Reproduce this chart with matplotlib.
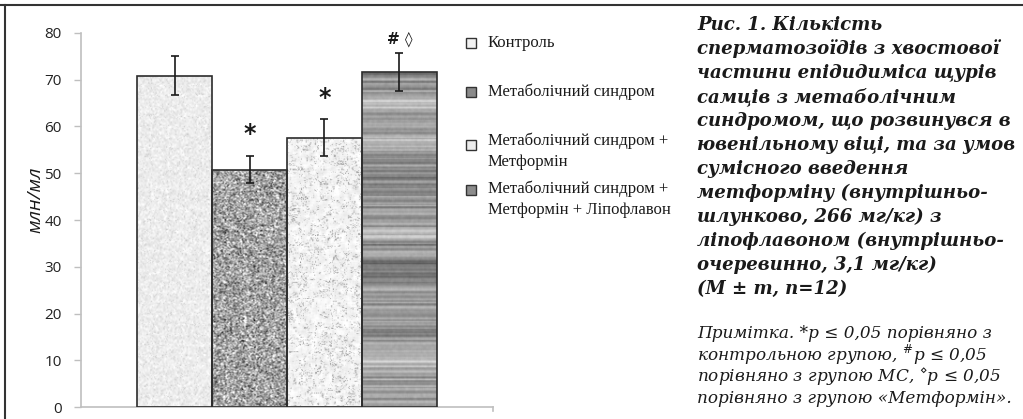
import numpy as np
import matplotlib
matplotlib.use("Agg")
import matplotlib.pyplot as plt
from matplotlib.lines import Line2D
from matplotlib.patches import Rectangle

# --- data -------------------------------------------------------------
groups = ["Контроль",
          "Метаболічний синдром",
          "Метаболічний синдром +\nМетформін",
          "Метаболічний синдром +\nМетформін + Ліпофлавон"]
means = [70.9, 50.8, 57.6, 71.6]
errors = [4.2, 2.9, 4.0, 4.1]
marks = ["", "*", "*", "# \u25ca"]
yticks = [0, 10, 20, 30, 40, 50, 60, 70, 80]
ylabel = "млн/мл"

caption = ["Рис. 1. Кількість",
           "сперматозоїдів з хвостової",
           "частини епідидиміса щурів",
           "самців з метаболічним",
           "синдромом, що розвинувся в",
           "ювенільному віці, та за умов",
           "сумісного введення",
           "метформіну (внутрішньо-",
           "шлунково, 266 мг/кг) з",
           "ліпофлавоном (внутрішньо-",
           "очеревинно, 3,1 мг/кг)",
           "(M \u00b1 m, n=12)"]
note = ["Примітка. *p \u2264 0,05 порівняно з",
        "контрольною групою, $^{\\#}$p \u2264 0,05",
        "порівняно з групою МС, $^{\\diamond}$p \u2264 0,05",
        "порівняно з групою «Метформін»."]

# --- textures ---------------------------------------------------------
rng = np.random.default_rng(7)


def smooth(a, k):
    kern = np.ones(k) / k
    a = np.apply_along_axis(lambda r: np.convolve(r, kern, mode="same"), 0, a)
    a = np.apply_along_axis(lambda r: np.convolve(r, kern, mode="same"), 1, a)
    return a


def field(shape, k):
    f = smooth(rng.normal(size=(shape[0] + 2 * k, shape[1] + 2 * k)), k)
    f = f[k:-k, k:-k]
    return (f - f.mean()) / f.std()


H, W = 300, 80
# light speckle
t1 = 0.93 + 0.05 * smooth(rng.normal(size=(H, W)), 2)
t1 -= 0.08 * (rng.random((H, W)) > 0.93)
# granite
g = smooth(rng.normal(size=(H, W)), 2)
t2 = 0.64 + 0.30 * g
t2 -= 0.30 * (rng.random((H, W)) > 0.985)
# marble: warped sine veins
yy, xx = np.mgrid[0:H, 0:W]
warp = field((H, W), 21)
phase = 0.07 * (xx * 0.9 + yy * 0.55) + 1.6 * warp
vein = np.exp(-(np.abs(np.sin(phase)) / 0.12) ** 2)
warp2 = field((H, W), 15)
vein2 = np.exp(-(np.abs(np.sin(0.05 * (yy - xx * 0.4) + 1.8 * warp2)) / 0.08) ** 2)
t3 = 0.96 - 0.32 * vein - 0.2 * vein2 - 0.02 * field((H, W), 5)
# wood, horizontal grain
rows = np.convolve(rng.normal(size=H + 20), np.ones(2) / 2, mode="same")[10:H + 10]
band = np.convolve(rng.normal(size=H + 60), np.ones(15) / 15, mode="same")[30:H + 30]
t4 = (0.60 + 0.10 * rows[:, None] + 0.30 * band[:, None]
      + 0.03 * smooth(rng.normal(size=(H, W)), 3))
textures = [np.clip(t, 0, 1) for t in (t1, t2, t3, t4)]

# --- figure -----------------------------------------------------------
fig = plt.figure(figsize=(10.23, 4.19), dpi=100)
ax = fig.add_axes([81 / 1023, 12 / 419, 412 / 1023, 374 / 419])

x = np.arange(len(means))
bars = ax.bar(x, means, width=1.0, facecolor="none", edgecolor="#2b2b2b",
              linewidth=1.2, zorder=3)
for b, tex in zip(bars, textures):
    x0, w, h = b.get_x(), b.get_width(), b.get_height()
    im = ax.imshow(tex, cmap="gray", vmin=0, vmax=1, aspect="auto",
                   extent=(x0, x0 + w, 0, h), zorder=2, interpolation="bilinear")
    im.set_clip_path(b)

ax.errorbar(x, means, yerr=errors, fmt="none", ecolor="#1a1a1a",
            elinewidth=1.2, capsize=3, capthick=1.2, zorder=4)

offsets = [0, 16, 15, 10]
for xi, m, e, s, off in zip(x, means, errors, marks, offsets):
    if not s:
        continue
    fs = 17 if s == "*" else 11
    ax.annotate(s, (xi, m + e), xytext=(0, off), textcoords="offset points",
                ha="center", va="center", fontsize=fs, color="#1a1a1a",
                family="DejaVu Sans", weight="bold")

ax.set_xlim(-1.247, 4.247)
ax.set_ylim(0, 80)
ax.set_yticks(yticks)
ax.set_yticklabels([str(t) for t in yticks], fontsize=11, family="Open Sans",
                   color="#222222")
ax.set_xticks([])
ax.tick_params(axis="y", length=5, width=1, color="#bfbfbf", pad=9)
for side in ("top", "right"):
    ax.spines[side].set_visible(False)
ax.spines["left"].set_color("#bfbfbf")
ax.spines["bottom"].set_color("#bfbfbf")
ax.spines["left"].set_linewidth(1.2)
ax.spines["bottom"].set_linewidth(1.2)
ax.patch.set_alpha(0)
# end tick of the category axis
ax.plot([1, 1], [0, -0.012], transform=ax.transAxes, color="#bfbfbf",
        lw=1.2, clip_on=False)

fig.text(35 / 1023, 1 - 200 / 419, ylabel, rotation=90, ha="center",
         va="center", fontsize=14, style="italic", family="Open Sans",
         color="#1a1a1a")

# legend drawn as swatches + text
leg_y = [43, 92, 151, 199]
sq_ys = [43, 92, 145, 190]
sw_col = ["#f2f2f2", "#8a8a8a", "#ececec", "#8c8c8c"]
for yv, sq_y, lab, c in zip(leg_y, sq_ys, groups, sw_col):
    fig.patches.append(Rectangle((466 / 1023, 1 - (sq_y + 5) / 419),
                                 10 / 1023, 10 / 419, transform=fig.transFigure,
                                 facecolor=c, edgecolor="#333333", lw=1.0))
    fig.text(488 / 1023, 1 - yv / 419, lab, ha="left", va="center",
             fontsize=12, family="Liberation Serif", color="#1a1a1a",
             linespacing=1.45)

# caption
for i, line in enumerate(caption):
    fig.text(697 / 1023, 1 - (25 + 24 * i) / 419, line, ha="left", va="center",
             fontsize=13.1, family="DejaVu Serif", style="italic",
             weight="bold", color="#1a1a1a")
for i, line in enumerate(note):
    fig.text(697 / 1023, 1 - (333 + 21.7 * i) / 419, line, ha="left",
             va="center", fontsize=12.2, family="DejaVu Serif", style="italic",
             color="#1a1a1a")

# frame lines
fig.add_artist(Line2D([0, 1], [1 - 5 / 419] * 2, transform=fig.transFigure,
                      color="#333333", lw=1.5))
fig.add_artist(Line2D([5 / 1023] * 2, [0, 1 - 5 / 419], transform=fig.transFigure,
                      color="#333333", lw=1.5))

fig.savefig("out.png", dpi=100)
